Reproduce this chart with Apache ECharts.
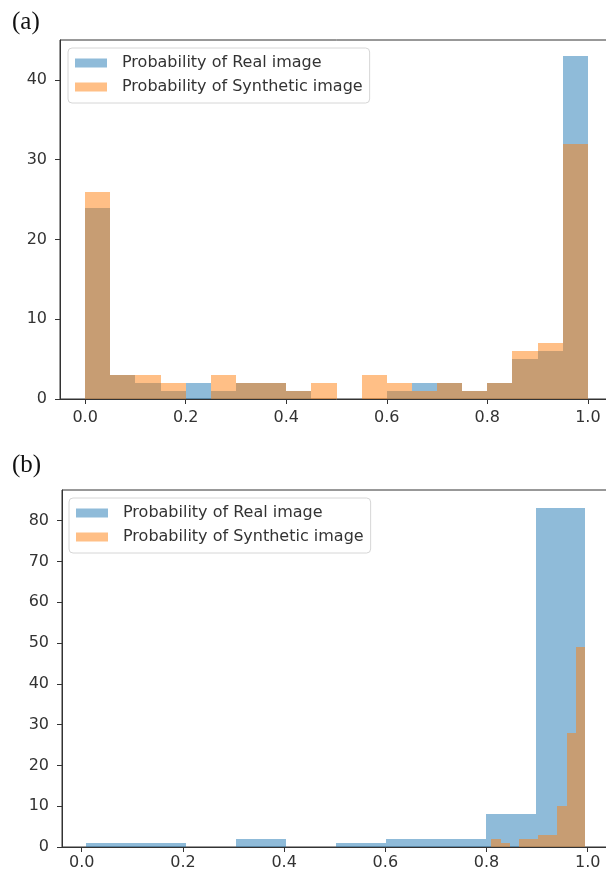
<!DOCTYPE html>
<html>
<head>
<meta charset="utf-8">
<script src="https://cdn.jsdelivr.net/npm/echarts@6/dist/echarts.min.js"></script>
<style>html,body{margin:0;padding:0;background:#fff;overflow:hidden}#c{width:630px;height:875px}</style>
</head>
<body>
<div id="c"></div>
<script>
// ---- data ----
const seriesNames = ['Probability of Real image', 'Probability of Synthetic image'];
const panelLabels = ['(a)', '(b)'];

// panel (a): 20 bins
const aEdges = [0.00,0.05,0.10,0.15,0.20,0.25,0.30,0.35,0.40,0.45,0.50,0.55,0.60,0.65,0.70,0.75,0.80,0.85,0.90,0.95,1.00];
const aReal  = [24,3,2,1,2,1,2,2,1,0,0,0,1,2,2,1,2,5,6,43];
const aSynth = [26,3,3,2,0,3,2,2,1,2,0,3,2,1,2,1,2,6,7,32];

// panel (b): 10 bins per series
const bRealEdges  = [0.0085,0.1072,0.2059,0.3046,0.4033,0.5020,0.6007,0.6994,0.7981,0.8968,0.9955];
const bReal       = [1,1,0,2,0,1,2,2,8,83];
const bSynthEdges = [0.8090,0.8277,0.8463,0.8650,0.8836,0.9023,0.9209,0.9396,0.9582,0.9769,0.9955];
const bSynth      = [2,1,0,2,2,3,3,10,28,49];

// ticks
const xTicks  = [0,0.2,0.4,0.6,0.8,1.0];
const aYTicks = [0,10,20,30,40];
const bYTicks = [0,10,20,30,40,50,60,70,80];

// ---- helpers ----
function toBins(edges, counts){
  return counts.map((c,i)=>[edges[i], edges[i+1], c]);
}
function renderBin(params, api){
  const h = api.value(2);
  if (!h) return null;
  const p0 = api.coord([api.value(0), h]);
  const p1 = api.coord([api.value(1), 0]);
  const l = Math.round(p0[0]), r = Math.round(p1[0]);
  const t = Math.round(p0[1]), b = Math.round(p1[1]);
  return {type:'rect', shape:{x:l, y:t, width:r-l, height:b-t}, style:{fill: api.visual('color')}};
}
const BLUE = 'rgba(31,119,180,0.5)';
const ORANGE = 'rgba(255,127,14,0.5)';
const FONT = 'DejaVu Sans';
const AX = '#333';

function xAxisCfg(gi, min, max, margin){
  return {
    type:'value', gridIndex:gi, min:min, max:max, position:'bottom',
    splitLine:{show:false},
    axisLine:{show:true, onZero:false, lineStyle:{color:AX, width:1}},
    axisTick:{show:true, inside:false, length:5, lineStyle:{color:AX}, customValues:xTicks},
    axisLabel:{show:true, customValues:xTicks, margin:margin, color:'#333', fontFamily:FONT, fontSize:16,
      formatter:v=>v.toFixed(1)}
  };
}
function yAxisCfg(gi, max, ticks){
  return {
    type:'value', gridIndex:gi, min:0, max:max, position:'left',
    splitLine:{show:false},
    axisLine:{show:true, onZero:false, lineStyle:{color:AX, width:1}},
    axisTick:{show:true, inside:false, length:5, lineStyle:{color:AX}, customValues:ticks},
    axisLabel:{show:true, customValues:ticks, margin:13, color:'#333', fontFamily:FONT, fontSize:16}
  };
}
function legendCfg(left, top){
  return {
    data: seriesNames, orient:'vertical', left:left, top:top,
    icon:'rect', itemWidth:32, itemHeight:9, itemGap:6,
    padding:[6,7,7,7],
    backgroundColor:'rgba(255,255,255,0.8)', borderColor:'#d6d6d6', borderWidth:1, borderRadius:4,
    textStyle:{fontFamily:FONT, fontSize:16, color:'#333', lineHeight:18, padding:[0,0,0,10]},
    selectedMode:false
  };
}

const chart = echarts.init(document.getElementById('c'), null, {renderer:'canvas'});
chart.setOption({
  animation:false,
  backgroundColor:'#fff',
  grid:[
    {left:60, top:40, width:553, height:359, show:true, borderColor:AX, borderWidth:1, containLabel:false},
    {left:62, top:490, width:548, height:357, show:true, borderColor:AX, borderWidth:1, containLabel:false}
  ],
  xAxis:[ xAxisCfg(0, -0.05, 1.05, 11), xAxisCfg(1, -0.039, 1.044, 8) ],
  yAxis:[ yAxisCfg(0, 45, aYTicks), yAxisCfg(1, 87.5, bYTicks) ],
  legend:[ legendCfg(68, 48), legendCfg(69, 498) ],
  graphic:[
    {type:'text', left:12, top:10, style:{text:panelLabels[0], font:'25px "Liberation Serif"', fill:'#111'}},
    {type:'text', left:12, top:453, style:{text:panelLabels[1], font:'25px "Liberation Serif"', fill:'#111'}}
  ],
  series:[
    {name:seriesNames[0], type:'custom', xAxisIndex:0, yAxisIndex:0, renderItem:renderBin,
     itemStyle:{color:BLUE}, encode:{x:[0,1], y:2}, data:toBins(aEdges, aReal), z:2},
    {name:seriesNames[1], type:'custom', xAxisIndex:0, yAxisIndex:0, renderItem:renderBin,
     itemStyle:{color:ORANGE}, encode:{x:[0,1], y:2}, data:toBins(aEdges, aSynth), z:3},
    {name:seriesNames[0], type:'custom', xAxisIndex:1, yAxisIndex:1, renderItem:renderBin,
     itemStyle:{color:BLUE}, encode:{x:[0,1], y:2}, data:toBins(bRealEdges, bReal), z:2},
    {name:seriesNames[1], type:'custom', xAxisIndex:1, yAxisIndex:1, renderItem:renderBin,
     itemStyle:{color:ORANGE}, encode:{x:[0,1], y:2}, data:toBins(bSynthEdges, bSynth), z:3}
  ]
});
</script>
</body>
</html>
